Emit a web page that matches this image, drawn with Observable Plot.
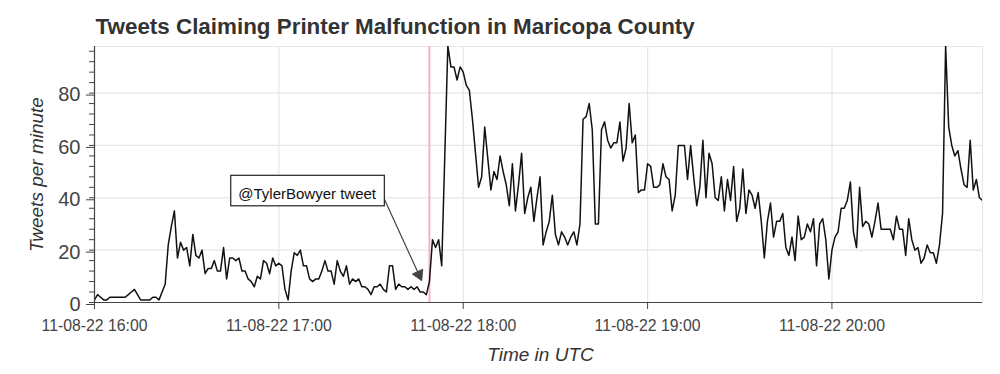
<!DOCTYPE html>
<html>
<head>
<meta charset="utf-8">
<script src="https://cdn.jsdelivr.net/npm/d3@7"></script>
<script src="https://cdn.jsdelivr.net/npm/@observablehq/plot@0.6"></script>
<style>
  body { margin: 0; background: #fff; }
  svg { display: block; }
</style>
</head>
<body>
<div id="chart"></div>
<script>
const chartTitle = "Tweets Claiming Printer Malfunction in Maricopa County";
const yLabel = "Tweets per minute";
const xLabel = "Time in UTC";

// one value per minute, starting 2022-11-08 16:00 UTC
const startTime = "2022-11-08T16:00Z";
const tweetsPerMinute = [
  1,3,2,1,1,2,2,2,2,2,
  2,3,4,5,3,1,1,1,1,2,
  2,1,4,7,22,29,35,17,23,20,
  21,14,26,18,17,20,11,13,13,16,
  12,12,21,9,17,17,16,17,12,12,
  9,8,6,10,9,16,15,11,17,14,
  15,14,5,1,12,19,18,20,14,14,
  9,8,9,9,12,16,12,12,7,16,
  12,10,14,7,9,8,9,6,6,5,
  3,6,6,7,5,4,14,14,5,7,
  6,6,5,6,5,6,4,4,3,8,
  24,21,24,14,56,98,90,90,85,90,
  88,83,81,70,57,44,48,67,55,43,
  50,47,56,50,45,37,53,35,45,57,
  34,40,44,31,40,48,22,27,31,41,
  26,22,27,25,22,25,27,22,30,70,
  71,76,66,30,30,66,69,62,59,61,
  61,69,54,59,76,61,64,42,43,43,
  53,52,44,44,45,53,48,47,35,41,
  60,60,60,47,60,48,37,44,62,40,
  57,53,40,39,48,35,47,39,52,31,
  36,51,34,43,41,36,42,31,17,31,
  38,25,31,31,34,21,18,25,16,33,
  24,25,30,27,32,14,30,32,24,9,
  20,25,27,36,36,39,46,27,21,44,
  29,31,30,25,31,38,28,28,28,28,
  24,33,28,28,18,32,24,20,21,15,
  17,22,19,19,15,22,34,98,67,60,
  56,58,51,45,44,62,43,47,40,39
];

const xTicks = ["2022-11-08T16:00Z","2022-11-08T17:00Z","2022-11-08T18:00Z","2022-11-08T19:00Z","2022-11-08T20:00Z"];
const yTicks = [0, 20, 40, 60, 80];
const yMinorTicks = [0,4,8,12,16,20,24,28,32,36,40,44,48,52,56,60,64,68,72,76,80,84,88,92,96];
const yMax = 97.8;

const tweetTime = "2022-11-08T17:49Z";
const annotationText = ["@TylerBowyer tweet"];
const annotationAt = [{time: "2022-11-08T17:09:12Z", value: 41.45}];
const arrowPath = [{t1: "2022-11-08T17:33:30Z", v1: 41.6, t2: "2022-11-08T17:46:30Z", v2: 8.3}];

const t0 = new Date(startTime);
const series = tweetsPerMinute.map((v, i) => ({time: d3.utcMinute.offset(t0, i), value: v}));
const xDomain = [series[0].time, series[series.length - 1].time];
const xTickDates = xTicks.map(d => new Date(d));
const fmt = d3.utcFormat("%m-%d-%y %H:%M");

const font = "'Liberation Sans', Arial, Helvetica, sans-serif";
const gridColor = "#e6e6e6";
const axisColor = "#444";

const plot = Plot.plot({
  width: 1000,
  height: 374,
  marginTop: 46,
  marginBottom: 72,
  marginLeft: 94,
  marginRight: 18,
  style: {fontFamily: font, background: "#fff", overflow: "visible"},
  x: {type: "utc", domain: xDomain},
  y: {domain: [0, yMax]},
  marks: [
    Plot.frame({stroke: gridColor}),
    Plot.ruleY(yTicks, {stroke: gridColor, strokeWidth: 1.2}),
    Plot.ruleX(xTickDates, {stroke: gridColor, strokeWidth: 1.2}),
    Plot.ruleX([new Date(tweetTime)], {stroke: "#f6b3be", strokeWidth: 2}),
    Plot.line(series, {x: "time", y: "value", stroke: "#111", strokeWidth: 1.5, clip: true}),
    // annotation
    Plot.arrow(arrowPath, {
      x1: d => new Date(d.t1), y1: "v1", x2: d => new Date(d.t2), y2: "v2",
      stroke: "#444", strokeWidth: 1.2, headLength: 0, insetEnd: 9
    }),
    Plot.dot(arrowPath, {
      x: d => new Date(d.t2), y: "v2", symbol: "triangle", r: 4.3, rotate: 155.4,
      dx: -2.8, dy: -6.1, fill: "#444", stroke: "#444", strokeWidth: 0.8
    }),
    Plot.text(annotationText, {
      x: () => new Date(annotationAt[0].time), y: () => annotationAt[0].value,
      text: d => d, fontSize: 15, fill: "#111", lineAnchor: "middle", textAnchor: "middle"
    }),
    // axes
    Plot.ruleY([0], {stroke: axisColor, strokeWidth: 1.2}),
    Plot.ruleX([xDomain[0]], {stroke: axisColor, strokeWidth: 1.2}),
    Plot.axisY(yMinorTicks, {tickSize: 5, tickFormat: () => "", color: axisColor, label: null}),
    Plot.axisY(yTicks, {tickSize: 8, tickPadding: 6, fontSize: 20, color: axisColor, label: null, dy: 2}),
    Plot.axisX(xTickDates, {tickSize: 7, tickPadding: 10, fontSize: 15.8, tickFormat: fmt, color: axisColor, label: null}),
    // titles
    Plot.text([chartTitle], {frameAnchor: "top-left", dx: 1, dy: -12.7, lineAnchor: "bottom", textAnchor: "start",
      fontSize: 22.4, fontWeight: "bold", fill: "#333"}),
    Plot.text([yLabel], {frameAnchor: "left", dx: -52, rotate: -90, lineAnchor: "bottom", textAnchor: "middle",
      fontSize: 19, fontStyle: "italic", fill: "#333"}),
    Plot.text([xLabel], {frameAnchor: "bottom", dx: 2, dy: 58.3, lineAnchor: "bottom", textAnchor: "middle",
      fontSize: 19, fontStyle: "italic", fill: "#333"})
  ]
});

document.getElementById("chart").appendChild(plot);

// white box with dark border behind the annotation text
plot.querySelectorAll("text").forEach(t => {
  if (t.textContent !== annotationText[0]) return;
  const b = t.getBBox();
  const r = document.createElementNS("http://www.w3.org/2000/svg", "rect");
  r.setAttribute("x", b.x - 7.5);
  r.setAttribute("y", b.y - 9.5);
  r.setAttribute("width", b.width + 15);
  r.setAttribute("height", b.height + 13.5);
  r.setAttribute("fill", "#fff");
  r.setAttribute("stroke", "#222");
  r.setAttribute("stroke-width", 1.2);
  const tr = t.getAttribute("transform");
  if (tr) r.setAttribute("transform", tr);
  t.parentNode.insertBefore(r, t);
});
</script>
</body>
</html>
